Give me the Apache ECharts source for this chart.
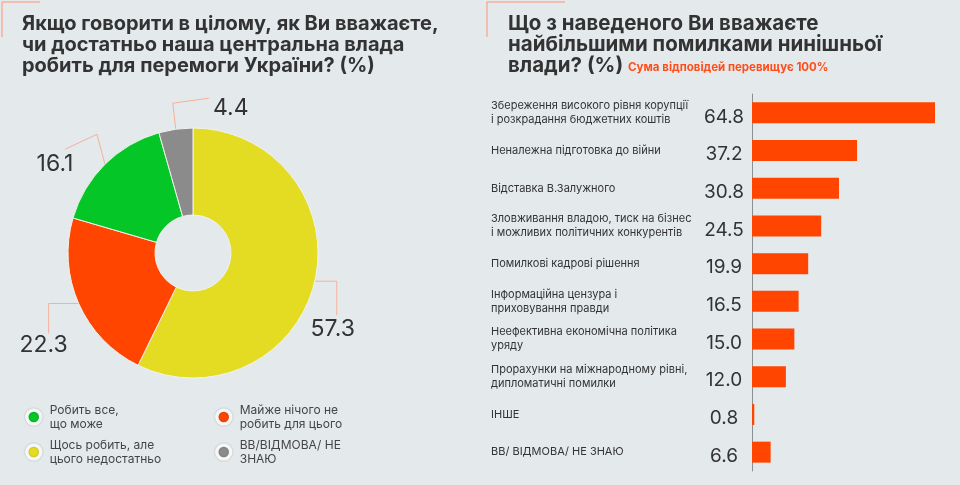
<!DOCTYPE html>
<html>
<head>
<meta charset="utf-8">
<script src="https://cdn.jsdelivr.net/npm/echarts@6/dist/echarts.min.js"></script>
<style>
  html, body { margin: 0; padding: 0; background: #e4eaec; }
  #chart { width: 960px; height: 485px; }
</style>
</head>
<body>
<div id="chart"></div>
<script>
// pie: how the central government is doing
const pieNames = ['Щось робить, але\nцього недостатньо', 'Майже нічого не\nробить для цього', 'Робить все,\nщо може', 'ВВ/ВІДМОВА/ НЕ\nЗНАЮ'];
const pieValues = [57.3, 22.3, 16.1, 4.4];
const pieColors = ['#e3dc23', '#ff4500', '#04c626', '#8b8b8b'];

// bars: biggest mistakes of the government
const barCategories = [
  'Збереження високого рівня корупції\nі розкрадання бюджетних коштів',
  'Неналежна підготовка до війни',
  'Відставка В.Залужного',
  'Зловживання владою, тиск на бізнес\nі можливих політичних конкурентів',
  'Помилкові кадрові рішення',
  'Інформаційна цензура і\nприховування правди',
  'Неефективна економічна політика\nуряду',
  'Прорахунки на міжнародному рівні,\nдипломатичні помилки',
  'ІНШЕ',
  'ВВ/ ВІДМОВА/ НЕ ЗНАЮ'
];
const barValues = [64.8, 37.2, 30.8, 24.5, 19.9, 16.5, 15.0, 12.0, 0.8, 6.6];

const FONT = 'Inter, "Noto Sans", sans-serif';
const ACCENT = '#f6b09a';

// leader line bends, relative to the slice anchor (yellow, red, green, grey)
const leaders = [
  { p1: [22, 0], p2: [22, 34], lab: [18, 48] },
  { p1: [-30, 0], p2: [-30, 30], lab: [-35, 42] },
  { p1: [-8, -30], p2: [-40, -15], lab: [-50, 0] },
  { p1: [-3, -26], p2: [33, -31], lab: [55, -21] }
];

const chart = echarts.init(document.getElementById('chart'));

const legendCommon = {
  orient: 'vertical',
  top: 398,
  icon: 'circle',
  itemWidth: 14,
  itemHeight: 14,
  itemGap: 7,
  selectedMode: false,
  itemStyle: { borderColor: '#f5f7f7', borderWidth: 3.5, shadowBlur: 2, shadowColor: 'rgba(0,0,0,0.25)' },
  textStyle: { fontFamily: FONT, fontSize: 12, lineHeight: 14, color: '#444', padding: [0, 0, 0, 4] }
};

chart.setOption({
  backgroundColor: '#e4eaec',
  animation: false,
  title: [
    {
      text: 'Якщо говорити в цілому, як Ви вважаєте,\nчи достатньо наша центральна влада\nробить для перемоги України? (%)',
      left: 22, top: 13, padding: 0,
      textStyle: { fontFamily: FONT, fontSize: 20, fontWeight: 'bold', lineHeight: 21, color: '#333' }
    },
    {
      text: 'Що з наведеного Ви вважаєте\nнайбільшими помилками нинішньої\nвлади? (%) {s|Сума відповідей перевищує 100%}',
      left: 508, top: 13, padding: 0,
      textStyle: {
        fontFamily: FONT, fontSize: 20.5, fontWeight: 'bold', lineHeight: 21, color: '#333',
        rich: { s: { fontFamily: FONT, fontSize: 11.5, fontWeight: 'bold', color: '#ff4d1a', padding: [4, 0, 0, 0] } }
      }
    }
  ],
  legend: [
    Object.assign({}, legendCommon, { left: 20, data: [pieNames[2], pieNames[0]] }),
    Object.assign({}, legendCommon, { left: 210, data: [pieNames[1], pieNames[3]] })
  ],
  graphic: [
    { type: 'polyline', shape: { points: [[2, 37], [2, 2], [40, 2]] }, style: { stroke: ACCENT, lineWidth: 1.5, fill: null } },
    { type: 'polyline', shape: { points: [[487, 37], [487, 2], [565, 2]] }, style: { stroke: ACCENT, lineWidth: 1.5, fill: null } }
  ],
  grid: { left: 752, right: 25, top: 94, bottom: 14 },
  xAxis: { type: 'value', min: 0, max: 'dataMax', show: false },
  yAxis: {
    type: 'category',
    inverse: true,
    data: barCategories,
    axisLine: { lineStyle: { color: '#8a8f92', width: 1 } },
    axisTick: { show: false },
    axisLabel: { align: 'left', margin: 261, fontFamily: FONT, fontSize: 11, lineHeight: 14, color: '#333' }
  },
  series: [
    {
      type: 'pie',
      center: [193, 253],
      radius: [38, 125],
      startAngle: 90,
      clockwise: true,
      data: pieNames.map((n, i) => ({ name: n, value: pieValues[i], itemStyle: { color: pieColors[i] } })),
      itemStyle: { borderColor: '#f2f2ee', borderWidth: 1 },
      label: {
        show: true, position: 'outside', formatter: '{c}', overflow: 'none', width: 80,
        fontFamily: FONT, fontSize: 23, color: '#333'
      },
      labelLine: { show: true, length: 10, length2: 10, lineStyle: { color: ACCENT, width: 1 } },
      labelLayout: function (params) {
        const a = params.labelLinePoints[0];
        const l = leaders[params.dataIndex];
        return {
          x: a[0] + l.lab[0],
          y: a[1] + l.lab[1],
          align: 'center',
          verticalAlign: 'middle',
          labelLinePoints: [a, [a[0] + l.p1[0], a[1] + l.p1[1]], [a[0] + l.p2[0], a[1] + l.p2[1]]]
        };
      },
      emphasis: { disabled: true }
    },
    {
      type: 'bar',
      data: barValues,
      barWidth: 21,
      itemStyle: { color: '#ff4500' },
      label: {
        show: true,
        position: [-28, '50%'],
        align: 'center',
        verticalAlign: 'middle',
        offset: [0, 4],
        fontFamily: FONT,
        fontSize: 19,
        color: '#333',
        formatter: p => p.value.toFixed(1)
      },
      emphasis: { disabled: true }
    }
  ]
});
</script>
</body>
</html>
